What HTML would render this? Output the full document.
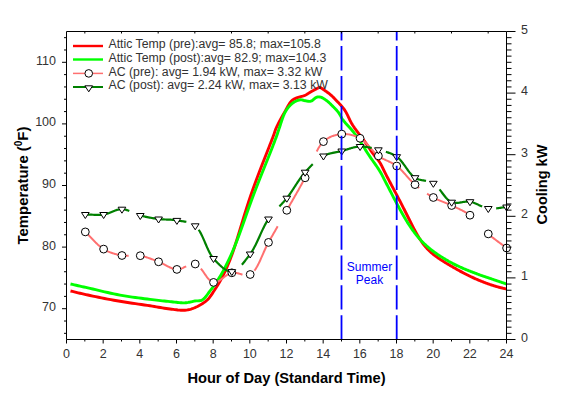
<!DOCTYPE html><html><head><meta charset="utf-8"><style>html,body{margin:0;padding:0;background:#fff;width:567px;height:406px;overflow:hidden}svg{display:block}text{font-family:"Liberation Sans",sans-serif}</style></head><body>
<svg width="567" height="406" viewBox="0 0 567 406">
<path d="M70.50,291.00 L72.43,291.45 L74.33,291.90 L76.22,292.34 L78.09,292.79 L79.98,293.24 L81.89,293.69 L83.84,294.14 L85.83,294.59 L87.88,295.04 L90.00,295.50 L92.74,296.08 L95.58,296.66 L98.52,297.26 L101.52,297.86 L104.59,298.46 L107.68,299.06 L110.79,299.65 L113.89,300.22 L116.97,300.77 L120.00,301.30 L123.02,301.80 L126.09,302.29 L129.18,302.76 L132.28,303.22 L135.37,303.67 L138.43,304.11 L141.44,304.54 L144.39,304.96 L147.25,305.38 L150.00,305.80 L152.18,306.15 L154.30,306.50 L156.39,306.85 L158.43,307.20 L160.43,307.55 L162.40,307.88 L164.33,308.20 L166.24,308.49 L168.13,308.76 L170.00,309.00 L171.60,309.20 L173.18,309.41 L174.75,309.62 L176.30,309.81 L177.83,309.99 L179.33,310.13 L180.80,310.23 L182.24,310.29 L183.64,310.28 L185.00,310.20 L186.09,310.09 L187.14,309.94 L188.15,309.77 L189.14,309.56 L190.12,309.32 L191.08,309.05 L192.05,308.74 L193.02,308.40 L194.00,308.02 L195.00,307.60 L196.22,307.05 L197.48,306.45 L198.77,305.78 L200.06,305.07 L201.35,304.31 L202.62,303.51 L203.85,302.67 L205.03,301.81 L206.16,300.91 L207.20,300.00 L208.10,299.12 L208.94,298.19 L209.74,297.22 L210.49,296.22 L211.21,295.20 L211.90,294.16 L212.58,293.11 L213.25,292.07 L213.92,291.03 L214.60,290.00 L215.26,289.01 L215.90,288.02 L216.54,287.03 L217.16,286.03 L217.78,285.03 L218.38,284.03 L218.98,283.03 L219.56,282.02 L220.14,281.01 L220.70,280.00 L221.24,279.02 L221.76,278.05 L222.27,277.09 L222.77,276.12 L223.26,275.15 L223.74,274.17 L224.23,273.17 L224.71,272.15 L225.20,271.09 L225.70,270.00 L226.31,268.63 L226.93,267.21 L227.56,265.74 L228.18,264.24 L228.81,262.71 L229.43,261.17 L230.04,259.62 L230.65,258.06 L231.23,256.52 L231.80,255.00 L232.34,253.51 L232.87,252.01 L233.39,250.51 L233.89,249.02 L234.39,247.51 L234.88,246.01 L235.36,244.51 L235.84,243.01 L236.32,241.50 L236.80,240.00 L237.28,238.50 L237.74,237.00 L238.21,235.50 L238.67,234.00 L239.12,232.50 L239.58,231.00 L240.03,229.50 L240.49,228.00 L240.94,226.50 L241.40,225.00 L241.86,223.50 L242.32,222.00 L242.77,220.50 L243.23,219.00 L243.68,217.50 L244.14,216.00 L244.60,214.50 L245.06,213.00 L245.53,211.50 L246.00,210.00 L246.48,208.50 L246.95,207.00 L247.43,205.49 L247.92,203.99 L248.40,202.49 L248.89,200.99 L249.39,199.49 L249.89,197.99 L250.39,196.50 L250.90,195.00 L251.42,193.50 L251.95,191.99 L252.48,190.49 L253.01,188.99 L253.55,187.49 L254.10,185.99 L254.64,184.49 L255.19,183.00 L255.75,181.50 L256.30,180.00 L256.86,178.50 L257.42,177.00 L257.98,175.50 L258.55,173.99 L259.12,172.49 L259.69,171.00 L260.27,169.50 L260.84,168.00 L261.42,166.50 L262.00,165.00 L262.58,163.50 L263.17,162.00 L263.76,160.50 L264.35,159.00 L264.94,157.50 L265.54,156.00 L266.13,154.50 L266.72,153.00 L267.31,151.50 L267.90,150.00 L268.50,148.48 L269.11,146.91 L269.73,145.32 L270.35,143.73 L270.96,142.15 L271.57,140.60 L272.15,139.09 L272.70,137.64 L273.22,136.27 L273.70,135.00 L273.99,134.21 L274.24,133.48 L274.46,132.79 L274.67,132.14 L274.88,131.50 L275.09,130.86 L275.32,130.21 L275.57,129.53 L275.86,128.79 L276.20,128.00 L276.84,126.61 L277.58,125.08 L278.40,123.44 L279.29,121.73 L280.22,119.98 L281.18,118.21 L282.15,116.45 L283.10,114.75 L284.03,113.12 L284.90,111.60 L285.59,110.38 L286.27,109.15 L286.94,107.93 L287.61,106.72 L288.28,105.56 L288.94,104.44 L289.62,103.39 L290.30,102.42 L290.99,101.55 L291.70,100.80 L292.18,100.36 L292.65,99.98 L293.12,99.65 L293.60,99.35 L294.08,99.09 L294.57,98.84 L295.07,98.61 L295.59,98.38 L296.13,98.15 L296.70,97.90 L297.44,97.60 L298.24,97.34 L299.07,97.09 L299.93,96.85 L300.81,96.62 L301.69,96.39 L302.56,96.15 L303.41,95.89 L304.23,95.61 L305.00,95.30 L305.64,94.99 L306.26,94.67 L306.86,94.33 L307.44,93.97 L308.01,93.61 L308.58,93.24 L309.14,92.87 L309.72,92.51 L310.30,92.15 L310.90,91.80 L311.56,91.43 L312.24,91.05 L312.95,90.66 L313.67,90.27 L314.38,89.89 L315.08,89.52 L315.75,89.16 L316.38,88.84 L316.97,88.55 L317.50,88.30 L317.77,88.17 L318.03,88.03 L318.27,87.90 L318.50,87.78 L318.73,87.67 L318.94,87.57 L319.15,87.49 L319.36,87.43 L319.58,87.40 L319.80,87.40 L320.02,87.43 L320.23,87.49 L320.43,87.57 L320.63,87.67 L320.83,87.79 L321.03,87.93 L321.25,88.09 L321.48,88.25 L321.73,88.42 L322.00,88.60 L322.65,89.01 L323.40,89.51 L324.24,90.08 L325.14,90.70 L326.09,91.36 L327.05,92.04 L328.00,92.75 L328.92,93.45 L329.80,94.14 L330.60,94.80 L331.25,95.37 L331.87,95.93 L332.47,96.50 L333.05,97.07 L333.61,97.64 L334.17,98.22 L334.73,98.81 L335.30,99.42 L335.89,100.05 L336.50,100.70 L337.26,101.49 L338.04,102.30 L338.83,103.11 L339.64,103.95 L340.46,104.81 L341.27,105.69 L342.08,106.61 L342.87,107.57 L343.65,108.56 L344.40,109.60 L345.27,110.94 L346.10,112.37 L346.89,113.88 L347.67,115.44 L348.44,117.04 L349.21,118.66 L350.00,120.29 L350.82,121.90 L351.69,123.47 L352.60,125.00 L353.61,126.54 L354.66,128.06 L355.76,129.56 L356.88,131.06 L358.03,132.55 L359.18,134.03 L360.34,135.52 L361.48,137.00 L362.61,138.50 L363.70,140.00 L364.77,141.52 L365.84,143.07 L366.92,144.65 L367.99,146.23 L369.05,147.80 L370.09,149.36 L371.11,150.87 L372.11,152.32 L373.07,153.70 L374.00,155.00 L374.66,155.88 L375.31,156.71 L375.94,157.49 L376.56,158.25 L377.16,158.98 L377.75,159.70 L378.33,160.44 L378.90,161.19 L379.46,161.97 L380.00,162.80 L380.56,163.72 L381.09,164.68 L381.60,165.65 L382.10,166.65 L382.58,167.66 L383.06,168.67 L383.54,169.69 L384.02,170.71 L384.50,171.71 L385.00,172.70 L385.50,173.67 L386.00,174.63 L386.49,175.60 L386.99,176.56 L387.49,177.52 L387.99,178.48 L388.50,179.43 L389.00,180.39 L389.50,181.35 L390.00,182.30 L390.50,183.24 L391.00,184.19 L391.50,185.13 L392.00,186.07 L392.50,187.00 L393.00,187.94 L393.50,188.88 L394.00,189.82 L394.50,190.76 L395.00,191.70 L395.50,192.65 L396.00,193.59 L396.50,194.54 L397.00,195.49 L397.51,196.43 L398.01,197.38 L398.51,198.33 L399.00,199.29 L399.50,200.24 L400.00,201.20 L400.50,202.17 L401.00,203.15 L401.51,204.12 L402.01,205.10 L402.51,206.08 L403.01,207.06 L403.50,208.05 L404.00,209.03 L404.50,210.01 L405.00,211.00 L405.50,212.00 L406.00,213.00 L406.50,214.00 L407.00,215.00 L407.50,216.00 L408.00,217.01 L408.50,218.01 L409.00,219.01 L409.50,220.01 L410.00,221.00 L410.50,221.98 L410.99,222.96 L411.49,223.95 L411.98,224.93 L412.48,225.91 L412.98,226.88 L413.48,227.85 L413.98,228.81 L414.49,229.76 L415.00,230.70 L415.49,231.59 L415.98,232.48 L416.47,233.36 L416.96,234.24 L417.46,235.11 L417.96,235.98 L418.46,236.83 L418.97,237.67 L419.48,238.49 L420.00,239.30 L420.48,240.04 L420.97,240.76 L421.46,241.48 L421.95,242.19 L422.45,242.89 L422.95,243.58 L423.46,244.25 L423.97,244.91 L424.48,245.56 L425.00,246.20 L425.48,246.78 L425.97,247.34 L426.46,247.89 L426.96,248.44 L427.46,248.97 L427.96,249.49 L428.47,250.01 L428.98,250.51 L429.49,251.01 L430.00,251.50 L430.49,251.95 L430.98,252.40 L431.48,252.84 L431.97,253.27 L432.47,253.69 L432.97,254.10 L433.48,254.51 L433.98,254.91 L434.49,255.31 L435.00,255.70 L435.49,256.07 L435.99,256.44 L436.49,256.80 L436.98,257.15 L437.49,257.50 L437.99,257.84 L438.49,258.19 L438.99,258.53 L439.50,258.86 L440.00,259.20 L440.50,259.53 L440.99,259.86 L441.49,260.18 L441.99,260.51 L442.49,260.83 L442.99,261.14 L443.49,261.46 L444.00,261.78 L444.50,262.09 L445.00,262.40 L445.50,262.71 L446.00,263.01 L446.50,263.32 L447.00,263.62 L447.50,263.92 L448.00,264.21 L448.50,264.51 L449.00,264.81 L449.50,265.10 L450.00,265.40 L450.50,265.69 L451.00,265.99 L451.50,266.28 L452.00,266.57 L452.50,266.86 L453.00,267.15 L453.50,267.44 L454.00,267.73 L454.50,268.01 L455.00,268.30 L455.50,268.58 L456.00,268.87 L456.50,269.15 L457.00,269.43 L457.50,269.72 L458.00,270.00 L458.50,270.28 L459.00,270.55 L459.50,270.83 L460.00,271.10 L460.50,271.37 L461.00,271.63 L461.50,271.90 L462.00,272.16 L462.50,272.42 L463.00,272.67 L463.50,272.93 L464.00,273.19 L464.50,273.44 L465.00,273.70 L465.50,273.95 L466.00,274.21 L466.50,274.46 L467.00,274.71 L467.50,274.96 L468.00,275.21 L468.50,275.46 L469.00,275.71 L469.50,275.95 L470.00,276.20 L470.50,276.44 L471.00,276.69 L471.50,276.94 L472.00,277.18 L472.50,277.42 L472.99,277.66 L473.50,277.90 L474.00,278.14 L474.50,278.37 L475.00,278.60 L475.50,278.82 L476.00,279.04 L476.50,279.25 L477.00,279.46 L477.50,279.67 L478.00,279.88 L478.50,280.09 L479.00,280.29 L479.50,280.49 L480.00,280.70 L480.50,280.90 L481.00,281.11 L481.50,281.31 L482.00,281.52 L482.50,281.72 L483.00,281.92 L483.50,282.12 L484.00,282.31 L484.50,282.51 L485.00,282.70 L485.50,282.89 L486.00,283.07 L486.50,283.26 L487.00,283.44 L487.50,283.62 L488.00,283.80 L488.50,283.98 L489.00,284.16 L489.50,284.33 L490.00,284.50 L490.50,284.67 L491.00,284.84 L491.50,285.00 L492.00,285.16 L492.50,285.32 L493.00,285.48 L493.50,285.64 L494.00,285.80 L494.50,285.95 L495.00,286.10 L495.50,286.25 L496.00,286.40 L496.50,286.54 L497.00,286.68 L497.50,286.82 L498.00,286.96 L498.50,287.10 L499.00,287.24 L499.50,287.37 L500.00,287.50 L500.51,287.63 L501.05,287.77 L501.59,287.90 L502.14,288.03 L502.68,288.16 L503.21,288.29 L503.71,288.41 L504.19,288.52 L504.62,288.61 L505.00,288.70 L505.19,288.74 L505.36,288.78 L505.51,288.81 L505.66,288.84 L505.80,288.87 L505.94,288.89 L506.08,288.92 L506.21,288.94 L506.35,288.97 L506.50,289.00" fill="none" stroke="#ff0000" stroke-width="2.9" stroke-linejoin="round"/>
<path d="M70.50,284.00 L72.43,284.44 L74.33,284.87 L76.22,285.29 L78.10,285.72 L79.99,286.14 L81.90,286.58 L83.84,287.01 L85.83,287.46 L87.88,287.92 L90.00,288.40 L92.74,289.02 L95.58,289.69 L98.52,290.38 L101.53,291.09 L104.58,291.81 L107.68,292.53 L110.78,293.22 L113.88,293.89 L116.96,294.52 L120.00,295.10 L123.02,295.63 L126.08,296.14 L129.17,296.62 L132.27,297.07 L135.36,297.51 L138.42,297.92 L141.44,298.31 L144.38,298.69 L147.24,299.05 L150.00,299.40 L152.17,299.67 L154.30,299.93 L156.38,300.17 L158.42,300.41 L160.43,300.63 L162.40,300.84 L164.33,301.04 L166.25,301.23 L168.13,301.42 L170.00,301.60 L171.60,301.76 L173.19,301.94 L174.75,302.13 L176.30,302.31 L177.83,302.47 L179.33,302.62 L180.80,302.73 L182.23,302.81 L183.64,302.83 L185.00,302.80 L186.09,302.72 L187.16,302.59 L188.21,302.42 L189.23,302.23 L190.24,302.02 L191.22,301.79 L192.19,301.57 L193.14,301.36 L194.08,301.16 L195.00,301.00 L195.76,300.91 L196.51,300.86 L197.24,300.84 L197.96,300.83 L198.66,300.81 L199.36,300.77 L200.05,300.68 L200.74,300.54 L201.42,300.32 L202.10,300.00 L203.01,299.40 L203.92,298.64 L204.81,297.74 L205.69,296.73 L206.55,295.65 L207.41,294.50 L208.25,293.34 L209.08,292.18 L209.90,291.06 L210.70,290.00 L211.46,289.02 L212.21,288.03 L212.95,287.03 L213.67,286.04 L214.39,285.04 L215.09,284.04 L215.78,283.03 L216.47,282.02 L217.14,281.01 L217.80,280.00 L218.43,279.02 L219.04,278.05 L219.64,277.09 L220.22,276.13 L220.80,275.16 L221.38,274.18 L221.95,273.18 L222.52,272.15 L223.11,271.09 L223.70,270.00 L224.42,268.63 L225.16,267.21 L225.90,265.75 L226.65,264.25 L227.40,262.72 L228.14,261.17 L228.88,259.62 L229.60,258.07 L230.31,256.52 L231.00,255.00 L231.66,253.51 L232.31,252.01 L232.95,250.52 L233.58,249.02 L234.20,247.52 L234.82,246.02 L235.42,244.52 L236.02,243.01 L236.61,241.51 L237.20,240.00 L237.78,238.50 L238.34,237.01 L238.90,235.51 L239.46,234.01 L240.00,232.51 L240.54,231.01 L241.08,229.51 L241.62,228.00 L242.16,226.50 L242.70,225.00 L243.24,223.50 L243.77,222.00 L244.30,220.50 L244.82,219.00 L245.35,217.50 L245.88,216.00 L246.40,214.50 L246.93,213.00 L247.46,211.50 L248.00,210.00 L248.54,208.50 L249.08,207.00 L249.63,205.50 L250.17,204.00 L250.72,202.49 L251.27,200.99 L251.82,199.50 L252.38,198.00 L252.94,196.50 L253.50,195.00 L254.07,193.50 L254.64,192.00 L255.21,190.50 L255.79,188.99 L256.37,187.49 L256.95,186.00 L257.54,184.50 L258.12,183.00 L258.71,181.50 L259.30,180.00 L259.89,178.50 L260.49,177.00 L261.09,175.50 L261.69,174.00 L262.29,172.50 L262.89,171.00 L263.49,169.50 L264.10,168.00 L264.70,166.50 L265.30,165.00 L265.90,163.50 L266.50,162.00 L267.11,160.50 L267.71,159.00 L268.32,157.50 L268.92,156.00 L269.52,154.50 L270.12,153.00 L270.71,151.50 L271.30,150.00 L271.89,148.48 L272.50,146.91 L273.12,145.33 L273.73,143.74 L274.34,142.16 L274.93,140.60 L275.50,139.09 L276.04,137.64 L276.54,136.27 L277.00,135.00 L277.28,134.21 L277.52,133.48 L277.75,132.80 L277.95,132.14 L278.16,131.51 L278.36,130.87 L278.56,130.22 L278.79,129.53 L279.03,128.80 L279.30,128.00 L279.75,126.67 L280.23,125.19 L280.74,123.60 L281.28,121.94 L281.85,120.25 L282.43,118.56 L283.03,116.91 L283.65,115.34 L284.27,113.89 L284.90,112.60 L285.36,111.76 L285.82,110.96 L286.29,110.19 L286.77,109.47 L287.25,108.77 L287.74,108.11 L288.24,107.47 L288.75,106.86 L289.27,106.27 L289.80,105.70 L290.26,105.23 L290.72,104.77 L291.19,104.33 L291.67,103.91 L292.15,103.51 L292.64,103.13 L293.14,102.77 L293.64,102.43 L294.17,102.10 L294.70,101.80 L295.25,101.51 L295.83,101.23 L296.42,100.96 L297.02,100.71 L297.64,100.48 L298.25,100.27 L298.86,100.10 L299.45,99.96 L300.04,99.86 L300.60,99.80 L301.06,99.80 L301.50,99.83 L301.94,99.91 L302.37,100.01 L302.79,100.13 L303.22,100.26 L303.65,100.39 L304.08,100.51 L304.53,100.62 L305.00,100.70 L305.56,100.79 L306.13,100.90 L306.72,101.02 L307.32,101.13 L307.92,101.23 L308.53,101.31 L309.14,101.36 L309.74,101.36 L310.33,101.31 L310.90,101.20 L311.52,100.97 L312.13,100.63 L312.73,100.21 L313.33,99.72 L313.93,99.21 L314.51,98.70 L315.10,98.21 L315.67,97.78 L316.24,97.44 L316.80,97.20 L317.21,97.09 L317.62,97.00 L318.01,96.94 L318.40,96.90 L318.80,96.89 L319.19,96.91 L319.58,96.95 L319.98,97.01 L320.38,97.09 L320.80,97.20 L321.36,97.38 L321.94,97.62 L322.53,97.91 L323.13,98.24 L323.73,98.61 L324.33,99.01 L324.94,99.42 L325.53,99.84 L326.12,100.27 L326.70,100.70 L327.31,101.17 L327.92,101.66 L328.51,102.17 L329.11,102.70 L329.70,103.25 L330.28,103.81 L330.86,104.37 L331.44,104.95 L332.02,105.52 L332.60,106.10 L333.21,106.70 L333.82,107.31 L334.43,107.93 L335.05,108.55 L335.65,109.18 L336.25,109.82 L336.84,110.48 L337.41,111.14 L337.97,111.81 L338.50,112.50 L339.00,113.20 L339.45,113.92 L339.88,114.65 L340.29,115.40 L340.69,116.15 L341.10,116.91 L341.52,117.68 L341.97,118.45 L342.46,119.22 L343.00,120.00 L343.74,120.97 L344.55,121.94 L345.41,122.93 L346.32,123.92 L347.25,124.93 L348.19,125.94 L349.13,126.95 L350.06,127.96 L350.95,128.98 L351.80,130.00 L352.58,130.98 L353.34,131.94 L354.08,132.90 L354.81,133.87 L355.53,134.83 L356.25,135.82 L356.97,136.82 L357.70,137.85 L358.44,138.90 L359.20,140.00 L360.12,141.36 L361.05,142.78 L361.99,144.24 L362.93,145.74 L363.89,147.26 L364.85,148.80 L365.82,150.36 L366.80,151.91 L367.80,153.46 L368.80,155.00 L369.90,156.63 L371.05,158.31 L372.24,160.00 L373.44,161.71 L374.65,163.41 L375.83,165.10 L376.98,166.76 L378.07,168.37 L379.08,169.92 L380.00,171.40 L380.61,172.44 L381.18,173.44 L381.70,174.41 L382.20,175.35 L382.67,176.28 L383.13,177.20 L383.59,178.11 L384.05,179.03 L384.51,179.96 L385.00,180.90 L385.50,181.86 L386.00,182.82 L386.50,183.77 L387.00,184.73 L387.50,185.69 L388.00,186.65 L388.50,187.61 L389.00,188.58 L389.50,189.54 L390.00,190.50 L390.50,191.47 L391.00,192.44 L391.50,193.41 L392.00,194.39 L392.50,195.36 L392.99,196.33 L393.49,197.31 L393.99,198.27 L394.50,199.24 L395.00,200.20 L395.50,201.14 L395.99,202.08 L396.49,203.02 L396.99,203.95 L397.49,204.88 L397.99,205.81 L398.49,206.74 L398.99,207.66 L399.50,208.58 L400.00,209.50 L400.49,210.39 L400.99,211.29 L401.49,212.18 L401.98,213.07 L402.48,213.95 L402.98,214.83 L403.48,215.71 L403.99,216.58 L404.49,217.44 L405.00,218.30 L405.49,219.12 L405.99,219.94 L406.48,220.76 L406.98,221.57 L407.47,222.37 L407.97,223.17 L408.48,223.97 L408.98,224.75 L409.49,225.53 L410.00,226.30 L410.49,227.03 L410.98,227.75 L411.48,228.47 L411.97,229.18 L412.47,229.88 L412.97,230.58 L413.47,231.27 L413.98,231.96 L414.49,232.63 L415.00,233.30 L415.49,233.93 L415.98,234.55 L416.48,235.17 L416.97,235.78 L417.47,236.38 L417.97,236.98 L418.48,237.57 L418.98,238.15 L419.49,238.73 L420.00,239.30 L420.49,239.84 L420.98,240.37 L421.48,240.89 L421.98,241.41 L422.48,241.92 L422.98,242.43 L423.48,242.93 L423.99,243.43 L424.49,243.92 L425.00,244.40 L425.49,244.86 L425.99,245.32 L426.48,245.77 L426.98,246.22 L427.48,246.66 L427.98,247.10 L428.48,247.53 L428.99,247.96 L429.49,248.38 L430.00,248.80 L430.49,249.20 L430.99,249.60 L431.49,249.98 L431.99,250.37 L432.49,250.75 L432.99,251.13 L433.49,251.50 L433.99,251.87 L434.50,252.24 L435.00,252.60 L435.50,252.95 L435.99,253.30 L436.49,253.65 L436.99,254.00 L437.49,254.34 L437.99,254.67 L438.49,255.01 L438.99,255.34 L439.50,255.67 L440.00,256.00 L440.50,256.32 L440.99,256.64 L441.49,256.95 L441.99,257.27 L442.49,257.58 L442.99,257.88 L443.49,258.19 L444.00,258.50 L444.50,258.80 L445.00,259.10 L445.50,259.40 L446.00,259.70 L446.49,259.99 L446.99,260.29 L447.49,260.58 L447.99,260.87 L448.49,261.16 L449.00,261.44 L449.50,261.72 L450.00,262.00 L450.50,262.27 L451.00,262.54 L451.49,262.80 L451.99,263.07 L452.49,263.33 L452.99,263.59 L453.50,263.84 L454.00,264.10 L454.50,264.35 L455.00,264.60 L455.50,264.85 L456.00,265.09 L456.50,265.34 L457.00,265.58 L457.50,265.82 L458.00,266.06 L458.50,266.30 L459.00,266.53 L459.50,266.77 L460.00,267.00 L460.50,267.23 L461.00,267.45 L461.50,267.68 L462.00,267.90 L462.50,268.12 L463.00,268.34 L463.50,268.56 L464.00,268.77 L464.50,268.99 L465.00,269.20 L465.50,269.41 L466.00,269.61 L466.50,269.82 L467.00,270.02 L467.50,270.22 L468.00,270.42 L468.50,270.61 L469.00,270.81 L469.50,271.00 L470.00,271.20 L470.50,271.39 L471.00,271.59 L471.50,271.78 L472.00,271.97 L472.50,272.16 L473.00,272.34 L473.50,272.53 L474.00,272.72 L474.50,272.91 L475.00,273.10 L475.50,273.29 L476.00,273.48 L476.50,273.68 L477.00,273.87 L477.50,274.06 L478.00,274.25 L478.50,274.44 L479.00,274.63 L479.50,274.82 L480.00,275.00 L480.50,275.18 L481.00,275.35 L481.50,275.52 L482.00,275.69 L482.50,275.86 L483.00,276.03 L483.50,276.20 L484.00,276.36 L484.50,276.53 L485.00,276.70 L485.50,276.87 L486.00,277.04 L486.50,277.21 L487.00,277.38 L487.50,277.55 L488.00,277.72 L488.50,277.89 L489.00,278.06 L489.50,278.23 L490.00,278.40 L490.50,278.57 L491.00,278.74 L491.50,278.91 L492.00,279.08 L492.50,279.25 L493.00,279.42 L493.50,279.59 L494.00,279.76 L494.50,279.93 L495.00,280.10 L495.50,280.27 L496.00,280.44 L496.50,280.61 L497.00,280.78 L497.50,280.95 L498.00,281.12 L498.50,281.29 L499.00,281.46 L499.50,281.63 L500.00,281.80 L500.51,281.97 L501.05,282.15 L501.59,282.33 L502.14,282.52 L502.68,282.70 L503.21,282.88 L503.72,283.05 L504.19,283.21 L504.62,283.36 L505.00,283.50 L505.19,283.57 L505.36,283.64 L505.52,283.70 L505.66,283.76 L505.81,283.82 L505.94,283.87 L506.08,283.93 L506.21,283.98 L506.35,284.04 L506.50,284.10" fill="none" stroke="#00ff00" stroke-width="2.9" stroke-linejoin="round"/>
<path d="M85.32,231.90 L85.93,232.48 L86.53,233.07 L87.14,233.67 L87.74,234.27 L88.34,234.89 L88.94,235.51 L89.53,236.13 L90.13,236.76 L90.73,237.39 L91.32,238.02 L91.92,238.66 L92.51,239.29 L93.11,239.92 L93.71,240.54 L94.31,241.16 L94.91,241.77 L95.51,242.38 L96.11,242.98 L96.72,243.57 L97.33,244.15 L97.94,244.72 L98.56,245.27 L99.17,245.81 L99.80,246.34 L100.42,246.84 L101.06,247.34 L101.69,247.81 L102.33,248.26 L102.98,248.69 L103.63,249.10 L104.21,249.44 L104.79,249.78 L105.38,250.10 L105.97,250.41 L106.56,250.71 L107.16,251.00 L107.75,251.28 L108.35,251.56 L108.96,251.82 L109.56,252.07 L110.17,252.31 L110.78,252.55 L111.40,252.77 L112.01,252.99 L112.63,253.20 L113.25,253.40 L113.86,253.60 L114.48,253.78 L115.11,253.96 L115.73,254.13 L116.35,254.30 L116.97,254.46 L117.60,254.61 L118.22,254.75 L118.84,254.89 L119.46,255.02 L120.09,255.15 L120.71,255.27 L121.33,255.39 L121.95,255.50 L122.55,255.60 L123.16,255.67 L123.76,255.73 L124.37,255.78 L124.98,255.81 L125.59,255.83 L126.20,255.84 L126.81,255.83 L127.42,255.82 L128.03,255.80 L128.65,255.77 M138.45,255.48 L139.06,255.53 L139.66,255.61 L140.27,255.70 L140.89,255.81 L141.50,255.93 L142.12,256.06 L142.74,256.20 L143.35,256.35 L143.97,256.52 L144.58,256.68 L145.19,256.86 L145.81,257.05 L146.42,257.24 L147.03,257.44 L147.64,257.64 L148.25,257.85 L148.86,258.07 L149.47,258.29 L150.08,258.51 L150.69,258.74 L151.30,258.97 L151.91,259.21 L152.51,259.44 L153.12,259.68 L153.73,259.92 L154.34,260.16 L154.94,260.40 L155.55,260.63 L156.16,260.87 L156.76,261.11 L157.37,261.34 L157.98,261.57 L158.58,261.80 L159.20,262.04 L159.81,262.29 L160.42,262.56 L161.04,262.84 L161.65,263.14 L162.26,263.44 L162.87,263.75 L163.48,264.07 L164.09,264.39 L164.69,264.72 L165.30,265.04 L165.91,265.37 L166.52,265.70 L167.13,266.02 L167.74,266.34 L168.34,266.65 L168.95,266.95 L169.56,267.24 L170.17,267.53 L170.78,267.79 L171.39,268.05 L172.00,268.28 L172.61,268.50 L173.22,268.70 L173.83,268.88 L174.44,269.04 L175.06,269.17 L175.67,269.27 L176.28,269.35 L176.90,269.40 L177.51,269.41 L178.12,269.37 L178.73,269.29 L179.34,269.17 L179.96,269.01 L180.58,268.82 L181.20,268.61 L181.82,268.36 L182.45,268.10 L183.07,267.82 L183.69,267.52 L184.32,267.22 L184.94,266.91 L185.57,266.59 L186.19,266.27 M200.88,268.54 L201.48,269.30 L202.07,270.10 L202.67,270.92 L203.26,271.76 L203.85,272.61 L204.43,273.46 L205.02,274.31 L205.61,275.16 L206.20,275.98 L206.79,276.79 L207.38,277.56 L207.97,278.31 L208.57,279.01 L209.17,279.66 L209.77,280.27 L210.38,280.81 L211.00,281.28 L211.62,281.69 L212.25,282.01 L212.89,282.25 L213.53,282.40 L214.11,282.46 L214.70,282.45 L215.28,282.38 L215.87,282.26 L216.47,282.08 L217.06,281.86 L217.66,281.60 L218.25,281.29 L218.86,280.95 L219.46,280.58 L220.06,280.19 L220.67,279.76 L221.28,279.32 L221.89,278.87 L222.50,278.40 L223.12,277.93 L223.73,277.45 L224.35,276.97 L224.97,276.50 L225.59,276.04 L226.21,275.59 L226.84,275.16 L227.46,274.75 L228.08,274.36 L228.71,274.00 L229.34,273.68 L229.96,273.40 L230.59,273.15 L231.22,272.95 L231.85,272.80 L232.45,272.70 L233.05,272.65 L233.66,272.64 L234.28,272.66 L234.90,272.71 L235.52,272.79 L236.15,272.90 L236.78,273.03 L237.41,273.18 L238.05,273.34 L238.68,273.51 L239.32,273.70 L239.95,273.88 L240.59,274.07 L241.22,274.26 L241.86,274.44 L242.49,274.61 M254.40,270.67 L255.06,269.79 L255.69,268.84 L256.32,267.84 L256.94,266.80 L257.54,265.71 L258.14,264.57 L258.73,263.41 L259.31,262.21 L259.89,260.98 L260.46,259.73 L261.02,258.46 L261.59,257.18 L262.15,255.89 L262.71,254.60 L263.27,253.30 L263.83,252.02 L264.40,250.73 L264.96,249.47 L265.53,248.22 L266.11,246.99 L266.69,245.79 L267.28,244.62 L267.88,243.49 L268.48,242.40 L269.09,241.33 L269.70,240.26 L270.32,239.19 L270.93,238.12 L271.54,237.05 L272.15,235.98 L272.76,234.92 L273.37,233.85 L273.98,232.78 L274.59,231.71 L275.20,230.64 L275.81,229.57 L276.43,228.50 L277.04,227.43 L277.65,226.37 M284.97,213.52 L285.58,212.45 L286.19,211.37 L286.80,210.30 L287.41,209.22 L288.03,208.15 L288.64,207.07 L289.25,206.00 L289.87,204.92 L290.48,203.85 L291.10,202.78 L291.71,201.71 L292.32,200.64 L292.94,199.57 L293.55,198.49 L294.17,197.42 L294.78,196.35 L295.40,195.28 L296.01,194.20 L296.62,193.12 L297.24,192.05 L297.85,190.97 L298.46,189.89 L299.07,188.80 L299.68,187.72 L300.29,186.63 L300.90,185.54 L301.50,184.44 L302.11,183.34 L302.71,182.24 L303.32,181.14 L303.92,180.03 L304.52,178.92 L305.12,177.80 L305.73,176.61 L306.34,175.39 L306.94,174.14 M316.67,151.53 L317.28,150.33 L317.90,149.16 L318.54,148.04 L319.19,146.96 L319.85,145.93 L320.53,144.94 L321.23,144.02 L321.94,143.15 L322.68,142.34 L323.43,141.60 L323.97,141.12 L324.52,140.65 L325.08,140.20 L325.64,139.78 L326.22,139.37 L326.80,138.97 L327.39,138.60 L327.98,138.24 L328.58,137.90 L329.18,137.57 L329.79,137.27 L330.41,136.97 L331.03,136.70 L331.65,136.43 L332.28,136.19 L332.91,135.96 L333.54,135.74 L334.17,135.54 L334.80,135.35 L335.44,135.17 L336.08,135.01 L336.71,134.86 L337.35,134.72 L337.98,134.60 L338.62,134.49 L339.25,134.39 L339.88,134.30 L340.51,134.22 L341.13,134.16 L341.75,134.10 L342.35,134.06 L342.96,134.03 L343.57,134.01 L344.19,134.01 L344.80,134.03 L345.42,134.05 L346.04,134.09 L346.66,134.14 L347.29,134.21 L347.91,134.28 L348.53,134.37 L349.16,134.48 L349.78,134.59 L350.40,134.72 L351.03,134.86 L351.65,135.01 L352.27,135.17 L352.89,135.35 L353.51,135.53 L354.12,135.73 L354.73,135.94 L355.34,136.16 L355.95,136.39 L356.55,136.63 L357.15,136.88 L357.74,137.15 L358.33,137.42 L358.91,137.70 L359.49,138.00 L360.07,138.30 L360.73,138.68 L361.38,139.09 L362.02,139.54 L362.65,140.01 L363.28,140.52 L363.90,141.05 L364.52,141.61 L365.13,142.19 L365.74,142.79 L366.34,143.41 L366.93,144.04 L367.53,144.68 L368.12,145.34 L368.71,146.00 L369.30,146.67 L369.89,147.34 L370.48,148.02 L371.07,148.69 L371.66,149.36 L372.25,150.03 L372.85,150.69 L373.44,151.34 L374.04,151.97 L374.65,152.60 L375.25,153.20 L375.87,153.79 L376.49,154.35 L377.11,154.90 L377.74,155.41 L378.38,155.90 L378.97,156.32 L379.56,156.72 L380.16,157.11 L380.76,157.48 L381.36,157.83 L381.97,158.18 L382.58,158.51 L383.20,158.83 L383.82,159.15 L384.44,159.45 L385.06,159.75 L385.68,160.05 L386.30,160.34 L386.93,160.62 L387.55,160.91 L388.18,161.20 L388.80,161.49 L389.43,161.78 L390.05,162.08 L390.67,162.38 L391.29,162.69 L391.90,163.01 L392.52,163.34 L393.13,163.67 L393.73,164.02 L394.34,164.39 L394.93,164.76 L395.53,165.16 L396.12,165.57 L396.70,166.00 L397.35,166.50 L397.98,167.03 L398.62,167.57 L399.24,168.13 L399.87,168.71 L400.48,169.30 L401.10,169.91 L401.71,170.53 L402.31,171.17 L402.92,171.81 L403.52,172.46 L404.12,173.12 L404.71,173.78 L405.31,174.45 L405.91,175.12 L406.50,175.79 L407.09,176.47 L407.69,177.14 L408.29,177.81 L408.88,178.47 L409.48,179.13 L410.08,179.79 L410.69,180.43 L411.29,181.07 L411.90,181.69 L412.52,182.30 L413.13,182.90 L413.76,183.48 L414.38,184.05 L415.02,184.60 L415.61,185.10 L416.20,185.59 L416.79,186.08 L417.39,186.56 L417.98,187.04 L418.58,187.52 L419.18,187.99 M427.10,193.69 L427.72,194.10 L428.34,194.50 L428.96,194.89 L429.58,195.28 L430.20,195.66 L430.83,196.04 L431.45,196.41 L432.08,196.78 L432.70,197.14 L433.33,197.50 L433.93,197.83 L434.53,198.15 L435.13,198.46 L435.73,198.76 L436.33,199.05 L436.94,199.34 L437.55,199.61 L438.16,199.89 L438.77,200.15 L439.38,200.41 L439.99,200.67 L440.60,200.92 L441.22,201.17 L441.83,201.42 L442.45,201.66 L443.07,201.90 L443.68,202.14 L444.30,202.39 L444.92,202.63 L445.53,202.87 L446.15,203.12 L446.76,203.36 L447.38,203.61 L447.99,203.87 L448.60,204.13 L449.22,204.39 L449.83,204.66 L450.44,204.93 L451.04,205.21 L451.65,205.50 L452.27,205.80 L452.88,206.09 L453.50,206.38 L454.12,206.66 L454.74,206.95 L455.37,207.24 L455.99,207.52 L456.61,207.80 L457.23,208.09 L457.85,208.38 L458.47,208.66 L459.09,208.95 L459.71,209.25 L460.33,209.54 L460.95,209.84 L461.56,210.15 L462.18,210.46 L462.79,210.77 L463.40,211.10 L464.01,211.42 L464.62,211.76 L465.23,212.10 L465.83,212.46 L466.43,212.82 L467.03,213.19 L467.62,213.57 L468.21,213.96 L468.80,214.36 L469.39,214.77 L469.97,215.20 L470.61,215.70 L471.25,216.21 L471.89,216.75 L472.52,217.31 M488.28,233.90 L488.88,234.42 L489.47,234.94 L490.07,235.45 L490.67,235.95 L491.27,236.44 L491.88,236.94 L492.48,237.42 L493.09,237.90 L493.70,238.38 L494.31,238.85 L494.92,239.32 L495.53,239.78 L496.15,240.24 L496.76,240.70 L497.37,241.16 L497.99,241.62 L498.61,242.07 L499.22,242.52 L499.84,242.97 L500.45,243.42 L501.07,243.88 L501.69,244.33 L502.30,244.78 L502.92,245.23 L503.53,245.69 L504.15,246.15 L504.76,246.61 L505.38,247.07 L505.99,247.53 L506.60,248.00" fill="none" stroke="#ff7070" stroke-width="2"/>
<path d="M85.32,214.50 L85.93,214.50 L86.54,214.51 L87.15,214.52 L87.76,214.54 L88.37,214.56 L88.99,214.58 L89.60,214.61 L90.21,214.63 L90.82,214.66 L91.44,214.69 L92.05,214.72 L92.66,214.75 L93.27,214.77 L93.89,214.80 L94.50,214.82 L95.11,214.84 L95.72,214.86 L96.33,214.87 L96.94,214.88 L97.55,214.88 L98.16,214.88 L98.77,214.87 L99.38,214.85 L99.99,214.83 L100.60,214.80 L101.21,214.76 L101.82,214.71 L102.42,214.65 L103.03,214.58 L103.63,214.50 L104.25,214.40 L104.87,214.28 L105.48,214.14 L106.10,213.97 L106.71,213.79 L107.32,213.60 L107.94,213.39 L108.55,213.17 L109.16,212.94 L109.77,212.70 L110.38,212.46 L110.99,212.21 L111.60,211.96 L112.21,211.71 L112.82,211.47 L113.43,211.22 L114.04,210.98 L114.65,210.75 L115.26,210.53 L115.87,210.31 L116.48,210.11 L117.09,209.93 L117.69,209.76 L118.30,209.61 L118.91,209.48 L119.52,209.37 L120.13,209.29 L120.73,209.23 L121.34,209.20 L121.95,209.20 L122.56,209.23 L123.17,209.29 L123.79,209.37 L124.40,209.48 L125.01,209.61 L125.62,209.76 L126.23,209.93 L126.84,210.11 L127.44,210.32 L128.05,210.54 L128.66,210.77 L129.27,211.01 M139.04,215.14 L139.65,215.33 L140.27,215.50 L140.87,215.66 L141.48,215.81 L142.08,215.97 L142.69,216.12 L143.30,216.26 L143.91,216.40 L144.51,216.54 L145.12,216.68 L145.73,216.81 L146.34,216.94 L146.95,217.07 L147.56,217.19 L148.17,217.31 L148.78,217.43 L149.40,217.55 L150.01,217.66 L150.62,217.77 L151.23,217.88 L151.84,217.98 L152.45,218.09 L153.07,218.19 L153.68,218.29 L154.29,218.38 L154.91,218.48 L155.52,218.57 L156.13,218.66 L156.74,218.75 L157.36,218.83 L157.97,218.92 L158.58,219.00 L159.19,219.08 L159.80,219.15 L160.41,219.21 L161.02,219.26 L161.63,219.31 L162.24,219.35 L162.86,219.39 L163.47,219.42 L164.08,219.45 L164.69,219.48 L165.30,219.50 L165.92,219.52 L166.53,219.55 L167.14,219.57 L167.75,219.59 L168.37,219.61 L168.98,219.63 L169.59,219.66 L170.20,219.69 L170.82,219.72 L171.43,219.76 L172.04,219.80 L172.65,219.85 L173.26,219.91 L173.87,219.97 L174.47,220.04 L175.08,220.11 L175.69,220.20 L176.29,220.29 L176.90,220.40 L177.52,220.51 L178.14,220.61 L178.77,220.71 L179.39,220.80 L180.02,220.89 L180.66,220.98 L181.29,221.07 L181.92,221.16 L182.56,221.25 L183.19,221.35 L183.83,221.45 L184.46,221.55 L185.09,221.67 L185.73,221.79 L186.35,221.92 M198.70,229.76 L199.33,230.75 L199.95,231.79 L200.56,232.88 L201.15,234.01 L201.74,235.19 L202.31,236.39 L202.87,237.62 L203.43,238.88 L203.99,240.15 L204.54,241.43 L205.09,242.72 L205.64,244.01 L206.19,245.29 L206.74,246.57 L207.30,247.83 L207.87,249.07 L208.44,250.29 L209.03,251.48 L209.62,252.63 L210.23,253.74 L210.86,254.81 L211.50,255.82 L212.16,256.78 L212.83,257.67 L213.53,258.50 L214.09,259.12 L214.65,259.74 L215.22,260.37 L215.80,261.00 L216.39,261.64 L216.98,262.26 L217.58,262.89 L218.19,263.51 L218.80,264.12 L219.41,264.72 L220.03,265.32 L220.65,265.89 L221.28,266.45 L221.90,266.99 L222.53,267.52 L223.16,268.02 L223.79,268.49 L224.43,268.95 L225.06,269.37 L225.69,269.76 L226.32,270.12 L226.95,270.45 L227.57,270.74 L228.20,270.99 L228.82,271.21 L229.43,271.38 M241.90,264.72 L242.52,264.00 L243.13,263.27 L243.74,262.52 L244.34,261.76 L244.95,260.99 L245.54,260.21 L246.14,259.42 L246.73,258.64 L247.31,257.85 L247.90,257.06 L248.47,256.28 L249.04,255.51 L249.61,254.75 L250.17,254.00 L250.85,253.05 L251.53,252.06 L252.18,251.04 L252.83,249.97 L253.47,248.88 L254.09,247.75 L254.70,246.60 L255.31,245.42 L255.91,244.22 L256.50,243.00 L257.09,241.76 L257.67,240.51 L258.25,239.25 L258.82,237.99 L259.40,236.71 L259.97,235.44 L260.54,234.17 L261.12,232.90 L261.70,231.64 L262.28,230.38 L262.86,229.14 L263.45,227.92 L264.05,226.71 L264.65,225.52 L265.27,224.36 L265.89,223.22 L266.52,222.12 L267.16,221.04 L267.82,220.00 M279.43,206.39 L280.05,205.74 L280.68,205.09 L281.31,204.44 L281.93,203.78 L282.55,203.12 L283.17,202.45 L283.78,201.77 L284.40,201.08 L285.00,200.38 L285.61,199.67 L286.21,198.94 L286.80,198.20 L287.43,197.39 L288.05,196.56 L288.67,195.72 L289.29,194.86 L289.90,194.00 L290.51,193.12 L291.11,192.23 L291.71,191.33 L292.31,190.43 L292.90,189.52 L293.50,188.61 L294.09,187.69 L294.69,186.77 L295.28,185.86 L295.87,184.94 L296.47,184.02 L297.06,183.11 L297.66,182.21 L298.26,181.31 L298.86,180.42 L299.46,179.53 L300.07,178.66 L300.68,177.80 L301.30,176.95 L301.92,176.11 L302.55,175.29 L303.18,174.49 L303.82,173.71 L304.46,172.94 L305.12,172.20 L305.69,171.56 L306.27,170.92 L306.85,170.28 L307.43,169.65 L308.02,169.01 L308.60,168.39 L309.19,167.76 L309.78,167.15 L310.37,166.53 L310.97,165.93 L311.57,165.33 L312.17,164.74 L312.77,164.16 M322.13,156.74 L322.78,156.36 L323.43,156.00 L324.01,155.70 L324.60,155.41 L325.18,155.15 L325.77,154.89 L326.37,154.66 L326.97,154.44 L327.57,154.23 L328.17,154.03 L328.78,153.85 L329.39,153.67 L330.00,153.51 L330.61,153.35 L331.23,153.20 L331.84,153.06 L332.46,152.93 L333.08,152.80 L333.70,152.67 L334.32,152.55 L334.94,152.43 L335.56,152.31 L336.19,152.19 L336.81,152.07 L337.43,151.95 L338.05,151.83 L338.67,151.70 L339.29,151.58 L339.91,151.44 L340.52,151.30 L341.14,151.15 L341.75,151.00 L342.36,150.84 L342.97,150.67 L343.58,150.50 L344.19,150.32 L344.80,150.13 L345.41,149.94 L346.02,149.75 L346.63,149.56 L347.24,149.37 L347.85,149.17 L348.46,148.98 L349.07,148.79 L349.68,148.60 L350.29,148.41 L350.90,148.23 L351.51,148.05 L352.12,147.88 L352.73,147.71 L353.34,147.55 L353.95,147.40 L354.56,147.26 L355.17,147.12 L355.78,147.00 L356.39,146.89 L357.01,146.79 L357.62,146.70 L358.23,146.63 L358.84,146.57 L359.45,146.53 L360.07,146.50 L360.68,146.49 L361.29,146.49 L361.90,146.50 L362.51,146.53 L363.12,146.56 L363.73,146.61 L364.34,146.67 L364.95,146.74 L365.57,146.81 L366.18,146.90 L366.79,147.00 L367.41,147.10 L368.02,147.21 L368.63,147.33 L369.25,147.45 L369.86,147.59 L370.47,147.72 L371.08,147.86 L371.70,148.01 M385.87,151.84 L386.50,152.02 L387.12,152.22 L387.74,152.42 L388.36,152.63 L388.98,152.84 L389.59,153.07 L390.20,153.30 L390.81,153.55 L391.42,153.80 L392.02,154.07 L392.62,154.35 L393.22,154.64 L393.81,154.94 L394.40,155.26 L394.98,155.60 L395.56,155.95 L396.13,156.32 L396.70,156.70 L397.37,157.19 L398.02,157.73 L398.67,158.31 L399.30,158.92 L399.93,159.58 L400.54,160.26 L401.15,160.97 L401.75,161.71 L402.35,162.47 L402.94,163.25 L403.52,164.04 L404.11,164.85 L404.69,165.66 L405.26,166.48 L405.84,167.31 L406.42,168.13 L407.00,168.94 L407.58,169.75 L408.16,170.55 L408.75,171.34 L409.34,172.11 L409.94,172.85 L410.54,173.58 L411.15,174.27 L411.77,174.94 L412.40,175.57 L413.04,176.17 L413.68,176.72 L414.34,177.24 L415.02,177.70 L415.58,178.05 L416.16,178.36 L416.74,178.65 L417.34,178.91 L417.93,179.14 L418.54,179.35 L419.15,179.54 L419.76,179.71 L420.38,179.86 L421.00,180.00 L421.63,180.13 L422.26,180.25 L422.89,180.36 L423.52,180.46 L424.15,180.56 L424.79,180.67 L425.42,180.77 L426.05,180.88 M439.54,189.40 L440.13,190.16 L440.71,190.92 L441.30,191.69 L441.88,192.47 L442.46,193.25 L443.04,194.02 L443.62,194.78 L444.20,195.53 L444.79,196.27 L445.38,196.98 L445.97,197.67 L446.57,198.34 L447.18,198.97 L447.79,199.57 L448.41,200.13 L449.04,200.64 L449.67,201.11 L450.32,201.53 L450.98,201.89 L451.65,202.20 L452.22,202.41 L452.79,202.58 L453.37,202.72 L453.96,202.82 L454.55,202.89 L455.15,202.94 L455.75,202.95 L456.35,202.95 L456.96,202.92 L457.57,202.87 L458.19,202.81 L458.81,202.73 L459.43,202.64 L460.05,202.54 L460.67,202.44 L461.30,202.33 L461.92,202.22 L462.55,202.11 L463.17,202.00 L463.80,201.90 L464.43,201.80 L465.05,201.72 L465.67,201.65 L466.30,201.59 L466.91,201.55 L467.53,201.53 L468.15,201.53 L468.76,201.56 L469.36,201.62 L469.97,201.70 L470.59,201.82 L471.20,201.96 L471.82,202.12 L472.43,202.30 L473.05,202.50 L473.66,202.72 L474.27,202.95 L474.88,203.20 L475.49,203.46 L476.10,203.73 L476.70,204.01 L477.31,204.29 L477.92,204.58 L478.52,204.87 L479.13,205.17 L479.73,205.46 L480.34,205.75 L480.94,206.03 L481.55,206.31 L482.16,206.59 M496.18,208.40 L496.80,208.33 L497.41,208.25 L498.02,208.16 L498.63,208.07 L499.25,207.98 L499.86,207.89 L500.47,207.80 L501.09,207.70 L501.70,207.61 L502.31,207.52 L502.93,207.43 L503.54,207.34 L504.15,207.26 L504.77,207.19 L505.38,207.12 L505.99,207.05 L506.60,207.00" fill="none" stroke="#008000" stroke-width="2.2"/>
<circle cx="85.32" cy="231.90" r="3.9" fill="#fff" stroke="#000" stroke-width="1"/>
<circle cx="103.63" cy="249.10" r="3.9" fill="#fff" stroke="#000" stroke-width="1"/>
<circle cx="121.95" cy="255.50" r="3.9" fill="#fff" stroke="#000" stroke-width="1"/>
<circle cx="140.27" cy="255.70" r="3.9" fill="#fff" stroke="#000" stroke-width="1"/>
<circle cx="158.58" cy="261.80" r="3.9" fill="#fff" stroke="#000" stroke-width="1"/>
<circle cx="176.90" cy="269.40" r="3.9" fill="#fff" stroke="#000" stroke-width="1"/>
<circle cx="195.22" cy="264.00" r="3.9" fill="#fff" stroke="#000" stroke-width="1"/>
<circle cx="213.53" cy="282.40" r="3.9" fill="#fff" stroke="#000" stroke-width="1"/>
<circle cx="231.85" cy="272.80" r="3.9" fill="#fff" stroke="#000" stroke-width="1"/>
<circle cx="250.17" cy="274.50" r="3.9" fill="#fff" stroke="#000" stroke-width="1"/>
<circle cx="268.48" cy="242.40" r="3.9" fill="#fff" stroke="#000" stroke-width="1"/>
<circle cx="286.80" cy="210.30" r="3.9" fill="#fff" stroke="#000" stroke-width="1"/>
<circle cx="305.12" cy="177.80" r="3.9" fill="#fff" stroke="#000" stroke-width="1"/>
<circle cx="323.43" cy="141.60" r="3.9" fill="#fff" stroke="#000" stroke-width="1"/>
<circle cx="341.75" cy="134.10" r="3.9" fill="#fff" stroke="#000" stroke-width="1"/>
<circle cx="360.07" cy="138.30" r="3.9" fill="#fff" stroke="#000" stroke-width="1"/>
<circle cx="378.38" cy="155.90" r="3.9" fill="#fff" stroke="#000" stroke-width="1"/>
<circle cx="396.70" cy="166.00" r="3.9" fill="#fff" stroke="#000" stroke-width="1"/>
<circle cx="415.02" cy="184.60" r="3.9" fill="#fff" stroke="#000" stroke-width="1"/>
<circle cx="433.33" cy="197.50" r="3.9" fill="#fff" stroke="#000" stroke-width="1"/>
<circle cx="451.65" cy="205.50" r="3.9" fill="#fff" stroke="#000" stroke-width="1"/>
<circle cx="469.97" cy="215.20" r="3.9" fill="#fff" stroke="#000" stroke-width="1"/>
<circle cx="488.28" cy="233.90" r="3.9" fill="#fff" stroke="#000" stroke-width="1"/>
<circle cx="506.60" cy="248.00" r="3.9" fill="#fff" stroke="#000" stroke-width="1"/>
<path d="M81.47,212.50 L89.17,212.50 L85.32,218.50 Z" fill="#fff" stroke="#000" stroke-width="1"/>
<path d="M99.78,212.50 L107.48,212.50 L103.63,218.50 Z" fill="#fff" stroke="#000" stroke-width="1"/>
<path d="M118.10,207.20 L125.80,207.20 L121.95,213.20 Z" fill="#fff" stroke="#000" stroke-width="1"/>
<path d="M136.42,213.50 L144.12,213.50 L140.27,219.50 Z" fill="#fff" stroke="#000" stroke-width="1"/>
<path d="M154.73,217.00 L162.43,217.00 L158.58,223.00 Z" fill="#fff" stroke="#000" stroke-width="1"/>
<path d="M173.05,218.40 L180.75,218.40 L176.90,224.40 Z" fill="#fff" stroke="#000" stroke-width="1"/>
<path d="M191.37,223.80 L199.07,223.80 L195.22,229.80 Z" fill="#fff" stroke="#000" stroke-width="1"/>
<path d="M209.68,256.50 L217.38,256.50 L213.53,262.50 Z" fill="#fff" stroke="#000" stroke-width="1"/>
<path d="M228.00,269.60 L235.70,269.60 L231.85,275.60 Z" fill="#fff" stroke="#000" stroke-width="1"/>
<path d="M246.32,252.00 L254.02,252.00 L250.17,258.00 Z" fill="#fff" stroke="#000" stroke-width="1"/>
<path d="M264.63,217.00 L272.33,217.00 L268.48,223.00 Z" fill="#fff" stroke="#000" stroke-width="1"/>
<path d="M282.95,196.20 L290.65,196.20 L286.80,202.20 Z" fill="#fff" stroke="#000" stroke-width="1"/>
<path d="M301.27,170.20 L308.97,170.20 L305.12,176.20 Z" fill="#fff" stroke="#000" stroke-width="1"/>
<path d="M319.58,154.00 L327.28,154.00 L323.43,160.00 Z" fill="#fff" stroke="#000" stroke-width="1"/>
<path d="M337.90,149.00 L345.60,149.00 L341.75,155.00 Z" fill="#fff" stroke="#000" stroke-width="1"/>
<path d="M356.22,144.50 L363.92,144.50 L360.07,150.50 Z" fill="#fff" stroke="#000" stroke-width="1"/>
<path d="M374.53,147.80 L382.23,147.80 L378.38,153.80 Z" fill="#fff" stroke="#000" stroke-width="1"/>
<path d="M392.85,154.70 L400.55,154.70 L396.70,160.70 Z" fill="#fff" stroke="#000" stroke-width="1"/>
<path d="M411.17,175.70 L418.87,175.70 L415.02,181.70 Z" fill="#fff" stroke="#000" stroke-width="1"/>
<path d="M429.48,181.30 L437.18,181.30 L433.33,187.30 Z" fill="#fff" stroke="#000" stroke-width="1"/>
<path d="M447.80,200.20 L455.50,200.20 L451.65,206.20 Z" fill="#fff" stroke="#000" stroke-width="1"/>
<path d="M466.12,199.70 L473.82,199.70 L469.97,205.70 Z" fill="#fff" stroke="#000" stroke-width="1"/>
<path d="M484.43,206.50 L492.13,206.50 L488.28,212.50 Z" fill="#fff" stroke="#000" stroke-width="1"/>
<path d="M502.75,205.00 L510.45,205.00 L506.60,211.00 Z" fill="#fff" stroke="#000" stroke-width="1"/>
<line x1="341.50" y1="339.5" x2="341.50" y2="31.5" stroke="#0000ff" stroke-width="1.8" stroke-dasharray="24.3 5.6"/>
<line x1="396.70" y1="339.5" x2="396.70" y2="31.5" stroke="#0000ff" stroke-width="1.8" stroke-dasharray="24.3 5.6"/>
<text x="369.5" y="270.5" font-size="12" fill="#0000ff" text-anchor="middle">Summer</text>
<text x="369.5" y="283.5" font-size="12" fill="#0000ff" text-anchor="middle">Peak</text>
<path d="M66.5,31.5 H506.5 V339.5 H66.5 Z" fill="none" stroke="#000" stroke-width="1"/>
<path d="M64,333.34 H66.5 M64,321.02 H66.5 M62,308.70 H66.5 M64,296.38 H66.5 M64,284.06 H66.5 M64,271.74 H66.5 M64,259.42 H66.5 M62,247.10 H66.5 M64,234.78 H66.5 M64,222.46 H66.5 M64,210.14 H66.5 M64,197.82 H66.5 M62,185.50 H66.5 M64,173.18 H66.5 M64,160.86 H66.5 M64,148.54 H66.5 M64,136.22 H66.5 M62,123.90 H66.5 M64,111.58 H66.5 M64,99.26 H66.5 M64,86.94 H66.5 M64,74.62 H66.5 M62,62.30 H66.5 M64,49.98 H66.5 M64,37.66 H66.5 M506.5,339.50 H515.5 M506.5,333.34 H511.5 M506.5,327.18 H511.5 M506.5,321.02 H511.5 M506.5,314.86 H511.5 M506.5,308.70 H511.5 M506.5,302.54 H511.5 M506.5,296.38 H511.5 M506.5,290.22 H511.5 M506.5,284.06 H511.5 M506.5,277.90 H515.5 M506.5,271.74 H511.5 M506.5,265.58 H511.5 M506.5,259.42 H511.5 M506.5,253.26 H511.5 M506.5,247.10 H511.5 M506.5,240.94 H511.5 M506.5,234.78 H511.5 M506.5,228.62 H511.5 M506.5,222.46 H511.5 M506.5,216.30 H515.5 M506.5,210.14 H511.5 M506.5,203.98 H511.5 M506.5,197.82 H511.5 M506.5,191.66 H511.5 M506.5,185.50 H511.5 M506.5,179.34 H511.5 M506.5,173.18 H511.5 M506.5,167.02 H511.5 M506.5,160.86 H511.5 M506.5,154.70 H515.5 M506.5,148.54 H511.5 M506.5,142.38 H511.5 M506.5,136.22 H511.5 M506.5,130.06 H511.5 M506.5,123.90 H511.5 M506.5,117.74 H511.5 M506.5,111.58 H511.5 M506.5,105.42 H511.5 M506.5,99.26 H511.5 M506.5,93.10 H515.5 M506.5,86.94 H511.5 M506.5,80.78 H511.5 M506.5,74.62 H511.5 M506.5,68.46 H511.5 M506.5,62.30 H511.5 M506.5,56.14 H511.5 M506.5,49.98 H511.5 M506.5,43.82 H511.5 M506.5,37.66 H511.5 M506.5,31.50 H515.5 M66.50,339.5 V343.5 M84.83,339.5 V341.5 M103.17,339.5 V343.5 M121.50,339.5 V341.5 M139.83,339.5 V343.5 M158.17,339.5 V341.5 M176.50,339.5 V343.5 M194.83,339.5 V341.5 M213.17,339.5 V343.5 M231.50,339.5 V341.5 M249.83,339.5 V343.5 M268.17,339.5 V341.5 M286.50,339.5 V343.5 M304.83,339.5 V341.5 M323.17,339.5 V343.5 M341.50,339.5 V341.5 M359.83,339.5 V343.5 M378.17,339.5 V341.5 M396.50,339.5 V343.5 M414.83,339.5 V341.5 M433.17,339.5 V343.5 M451.50,339.5 V341.5 M469.83,339.5 V343.5 M488.17,339.5 V341.5 M506.50,339.5 V343.5 M84.83,31.5 V33.5 M121.50,31.5 V33.5 M158.17,31.5 V33.5 M194.83,31.5 V33.5 M231.50,31.5 V33.5 M268.17,31.5 V33.5 M304.83,31.5 V33.5 M341.50,31.5 V33.5 M378.17,31.5 V33.5 M414.83,31.5 V33.5 M451.50,31.5 V33.5 M488.17,31.5 V33.5" stroke="#000" stroke-width="1" fill="none"/>
<text x="56" y="311.10" font-size="12.5" fill="#333" text-anchor="end">70</text>
<text x="56" y="249.50" font-size="12.5" fill="#333" text-anchor="end">80</text>
<text x="56" y="187.90" font-size="12.5" fill="#333" text-anchor="end">90</text>
<text x="56" y="126.30" font-size="12.5" fill="#333" text-anchor="end">100</text>
<text x="56" y="64.70" font-size="12.5" fill="#333" text-anchor="end">110</text>
<text x="521" y="341.60" font-size="12.5" fill="#333">0</text>
<text x="521" y="280.00" font-size="12.5" fill="#333">1</text>
<text x="521" y="218.40" font-size="12.5" fill="#333">2</text>
<text x="521" y="156.80" font-size="12.5" fill="#333">3</text>
<text x="521" y="95.20" font-size="12.5" fill="#333">4</text>
<text x="521" y="33.60" font-size="12.5" fill="#333">5</text>
<text x="66.50" y="358" font-size="12.5" fill="#333" text-anchor="middle">0</text>
<text x="103.17" y="358" font-size="12.5" fill="#333" text-anchor="middle">2</text>
<text x="139.83" y="358" font-size="12.5" fill="#333" text-anchor="middle">4</text>
<text x="176.50" y="358" font-size="12.5" fill="#333" text-anchor="middle">6</text>
<text x="213.17" y="358" font-size="12.5" fill="#333" text-anchor="middle">8</text>
<text x="249.83" y="358" font-size="12.5" fill="#333" text-anchor="middle">10</text>
<text x="286.50" y="358" font-size="12.5" fill="#333" text-anchor="middle">12</text>
<text x="323.17" y="358" font-size="12.5" fill="#333" text-anchor="middle">14</text>
<text x="359.83" y="358" font-size="12.5" fill="#333" text-anchor="middle">16</text>
<text x="396.50" y="358" font-size="12.5" fill="#333" text-anchor="middle">18</text>
<text x="433.17" y="358" font-size="12.5" fill="#333" text-anchor="middle">20</text>
<text x="469.83" y="358" font-size="12.5" fill="#333" text-anchor="middle">22</text>
<text x="506.50" y="358" font-size="12.5" fill="#333" text-anchor="middle">24</text>
<text x="286.5" y="382.5" font-size="14.65" font-weight="bold" text-anchor="middle">Hour of Day (Standard Time)</text>
<text transform="translate(28,185.5) rotate(-90)" font-size="14.9" font-weight="bold" text-anchor="middle">Temperature (<tspan font-size="10" dy="-6">0</tspan><tspan dy="6">F)</tspan></text>
<text transform="translate(547,184.5) rotate(-90)" font-size="14.5" font-weight="bold" text-anchor="middle">Cooling kW</text>
<line x1="73" y1="46.00" x2="103" y2="46.00" stroke="#ff0000" stroke-width="2.4"/>
<text x="108.5" y="48.00" font-size="12.3" fill="#333">Attic Temp (pre):avg= 85.8; max=105.8</text>
<line x1="73" y1="59.50" x2="103" y2="59.50" stroke="#00ff00" stroke-width="2.4"/>
<text x="108.5" y="61.80" font-size="12.3" fill="#333">Attic Temp (post):avg= 82.9; max=104.3</text>
<line x1="73" y1="73.40" x2="103" y2="73.40" stroke="#ff7070" stroke-width="1.5"/>
<circle cx="88.75" cy="73.40" r="3.8" fill="#fff" stroke="#000"/>
<text x="108.5" y="75.60" font-size="12.3" fill="#333">AC (pre): avg= 1.94 kW, max= 3.32 kW</text>
<line x1="73" y1="87.00" x2="103" y2="87.00" stroke="#008000" stroke-width="2"/>
<path d="M84.90,85.80 L92.60,85.80 L88.75,91.80 Z" fill="#fff" stroke="#000" stroke-width="1"/>
<text x="108.5" y="89.20" font-size="12.3" fill="#333">AC (post): avg= 2.24 kW, max= 3.13 kW</text>
</svg></body></html>
